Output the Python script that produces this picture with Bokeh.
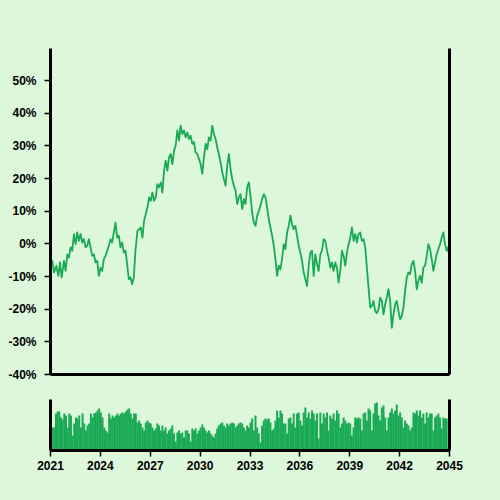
from bokeh.plotting import figure
from bokeh.layouts import column
from bokeh.models import Range1d, FixedTicker, LinearAxis, PrintfTickFormatter
from bokeh.embed import file_html
from bokeh.resources import INLINE

BG = "#dcf7da"
GREEN = "#1aa955"

# ---- data ----
line_years = [2021.02, 2021.11, 2021.21, 2021.35, 2021.47, 2021.57, 2021.67, 2021.81, 2021.91, 2022.01,
              2022.11, 2022.21, 2022.31, 2022.41, 2022.51, 2022.61, 2022.71, 2022.81, 2022.91, 2023.01,
              2023.11, 2023.21, 2023.31, 2023.41, 2023.51, 2023.61, 2023.71, 2023.81, 2023.91, 2024.01,
              2024.11, 2024.21, 2024.31, 2024.41, 2024.51, 2024.61, 2024.71, 2024.81, 2024.91, 2025.01,
              2025.11, 2025.21, 2025.31, 2025.41, 2025.51, 2025.61, 2025.71, 2025.81, 2025.91, 2026.01,
              2026.11, 2026.23, 2026.43, 2026.53, 2026.63, 2026.83, 2026.93, 2027.03, 2027.13, 2027.23,
              2027.33, 2027.43, 2027.53, 2027.63, 2027.73, 2027.83, 2027.93, 2028.03, 2028.13, 2028.23,
              2028.33, 2028.43, 2028.53, 2028.63, 2028.73, 2028.83, 2028.93, 2029.03, 2029.13, 2029.23,
              2029.33, 2029.43, 2029.53, 2029.63, 2029.73, 2029.83, 2029.93, 2030.03, 2030.13, 2030.23,
              2030.33, 2030.43, 2030.53, 2030.63, 2030.73, 2030.83, 2030.93, 2031.03, 2031.13, 2031.23,
              2031.33, 2031.43, 2031.53, 2031.63, 2031.73, 2031.83, 2031.93, 2032.03, 2032.13, 2032.23,
              2032.33, 2032.43, 2032.53, 2032.63, 2032.73, 2032.83, 2032.93, 2033.03, 2033.13, 2033.23,
              2033.33, 2033.43, 2033.53, 2033.63, 2033.73, 2033.83, 2033.93, 2034.03, 2034.13, 2034.23,
              2034.33, 2034.43, 2034.53, 2034.63, 2034.73, 2034.83, 2034.93, 2035.03, 2035.13, 2035.23,
              2035.33, 2035.43, 2035.53, 2035.63, 2035.73, 2035.83, 2035.93, 2036.03, 2036.13, 2036.23,
              2036.33, 2036.43, 2036.53, 2036.63, 2036.73, 2036.83, 2036.93, 2037.03, 2037.13, 2037.23,
              2037.33, 2037.43, 2037.53, 2037.63, 2037.73, 2037.83, 2037.93, 2038.03, 2038.13, 2038.23,
              2038.33, 2038.43, 2038.53, 2038.63, 2038.73, 2038.83, 2038.93, 2039.03, 2039.13, 2039.23,
              2039.33, 2039.43, 2039.53, 2039.63, 2039.73, 2039.83, 2039.93, 2040.03, 2040.13, 2040.23,
              2040.33, 2040.43, 2040.53, 2040.63, 2040.73, 2040.83, 2040.93, 2041.03, 2041.13, 2041.23,
              2041.33, 2041.43, 2041.53, 2041.63, 2041.73, 2041.83, 2041.93, 2042.03, 2042.13, 2042.23,
              2042.33, 2042.43, 2042.53, 2042.63, 2042.73, 2042.83, 2042.93, 2043.03, 2043.13, 2043.23,
              2043.33, 2043.43, 2043.53, 2043.63, 2043.73, 2043.83, 2043.93, 2044.03, 2044.13, 2044.23,
              2044.33, 2044.43, 2044.53, 2044.63, 2044.73, 2044.83, 2044.89, 2044.97]

line_pct = [-6.0, -5.2, -8.8, -6.7, -9.8, -5.7, -10.3, -5.2, -8.3, -3.2,
            -4.2, -1.1, -2.1, 3.0, -0.1, 3.5, 0.9, 3.0, 0.4, 1.4,
            -1.1, -0.6, 1.4, -1.1, -3.7, -3.2, -5.7, -5.2, -9.8, -7.3,
            -8.3, -4.7, -3.7, -2.1, -0.6, 1.4, 0.4, 3.5, 6.5, 1.9,
            2.5, -1.1, 0.4, -2.7, -2.1, -6.2, -10.8, -10.3, -12.4, -10.3,
            -2.1, 4.0, 5.0, 1.9, 7.1, 11.1, 14.2, 13.2, 15.7, 13.2,
            14.2, 18.3, 17.3, 18.8, 15.7, 22.4, 25.5, 22.4, 26.5, 27.5,
            24.4, 28.5, 30.1, 34.7, 31.6, 36.2, 33.6, 34.7, 32.6, 34.1,
            32.1, 33.1, 30.6, 31.1, 28.0, 27.5, 26.0, 24.4, 21.4, 26.5,
            30.6, 29.0, 32.6, 31.6, 36.2, 33.6, 32.1, 29.5, 27.5, 24.9,
            21.9, 19.8, 17.8, 23.9, 27.5, 22.9, 19.8, 17.8, 16.3, 12.2,
            14.2, 15.2, 10.6, 13.7, 12.2, 17.3, 18.8, 14.7, 9.6, 6.5,
            5.5, 8.6, 10.1, 11.7, 13.7, 15.2, 14.2, 11.1, 7.6, 5.0,
            2.5, -0.6, -4.7, -9.8, -6.7, -7.8, -4.7, -0.1, -1.6, 3.5,
            5.5, 8.6, 6.0, 4.5, 5.5, 2.5, -0.6, -2.7, -5.2, -8.8,
            -10.8, -12.9, -6.7, -2.7, -2.1, -9.8, -3.2, -6.2, -8.3, -3.2,
            -2.1, 1.4, 0.9, -2.1, -4.2, -7.3, -5.7, -8.3, -5.7, -7.3,
            -11.9, -8.3, -2.1, -3.7, -6.7, -2.7, -0.1, 1.9, 5.0, 0.9,
            3.0, 0.4, 3.0, 3.5, 0.9, 1.4, -1.1, -7.3, -13.4, -19.5,
            -19.0, -17.5, -20.6, -21.2, -20.0, -16.5, -17.5, -21.6, -18.5, -16.5,
            -13.9, -17.5, -25.7, -21.6, -18.5, -17.5, -20.6, -23.1, -22.1, -19.5,
            -14.4, -10.3, -8.8, -9.3, -6.2, -5.2, -8.3, -13.9, -11.3, -9.8,
            -11.9, -7.3, -6.7, -3.7, -0.1, -1.6, -4.7, -8.3, -5.7, -3.2,
            -1.6, -0.1, 1.9, 3.5, -0.1, -2.1, -1.1, -3.0]

volume = [23, 23, 23, 37, 39, 39, 33, 31, 37, 35, 23, 37, 35, 15, 27, 33, 32, 35, 23, 37,
          27, 20, 25, 27, 37, 33, 37, 38, 40, 42, 38, 33, 23, 20, 18, 37, 32, 35, 33, 35,
          37, 35, 37, 38, 37, 39, 41, 42, 37, 32, 37, 37, 28, 30, 27, 23, 20, 28, 30, 28,
          27, 23, 20, 22, 27, 25, 20, 25, 20, 23, 17, 20, 22, 25, 17, 9, 18, 20, 17, 18,
          13, 20, 20, 17, 9, 22, 20, 22, 17, 20, 23, 26, 23, 20, 18, 20, 17, 15, 13, 17,
          22, 25, 27, 28, 25, 23, 27, 25, 27, 28, 27, 23, 25, 27, 28, 27, 23, 20, 25, 23,
          28, 32, 20, 35, 23, 17, 8, 25, 30, 32, 31, 32, 28, 20, 22, 30, 40, 33, 40, 37,
          27, 27, 17, 32, 33, 27, 37, 23, 37, 38, 30, 25, 38, 43, 33, 38, 32, 40, 37, 30,
          37, 12, 38, 27, 37, 33, 38, 20, 35, 32, 37, 30, 40, 37, 23, 27, 33, 30, 27, 28,
          27, 15, 23, 33, 32, 33, 32, 20, 37, 38, 30, 42, 40, 20, 37, 47, 48, 35, 30, 43,
          45, 33, 20, 33, 38, 42, 37, 40, 46, 35, 38, 33, 23, 30, 27, 25, 20, 23, 38, 37,
          40, 35, 40, 33, 37, 27, 38, 33, 37, 37, 20, 33, 35, 37, 33, 22, 33, 32, 32]
vol_years = [round(2021.03 + 0.1 * i, 2) for i in range(len(volume))]

x_ticks = [2021, 2024, 2027, 2030, 2033, 2036, 2039, 2042, 2045]
y_ticks = [-40, -30, -20, -10, 0, 10, 20, 30, 40, 50]

FONT = "Liberation Sans"

def style_axis(ax, show_labels):
    ax.axis_line_width = 3
    ax.axis_line_color = "black"
    ax.major_label_text_font = FONT
    ax.major_label_text_font_style = "bold"
    ax.major_label_text_font_size = "12px"
    ax.major_label_text_color = "black"
    ax.minor_tick_line_color = None
    if show_labels:
        ax.major_tick_line_width = 1.5
        ax.major_tick_line_color = "black"
        ax.major_tick_out = 6
        ax.major_tick_in = 0
    else:
        ax.ticker = FixedTicker(ticks=[])
        ax.major_tick_line_color = None
        ax.major_label_text_font_size = "0px"

x_range = Range1d(2021, 2045)

p1 = figure(width=500, height=383, x_range=x_range, y_range=Range1d(-40, 59.8),
            output_backend="svg", toolbar_location=None,
            min_border_left=50, min_border_right=51, min_border_top=48, min_border_bottom=9,
            background_fill_color=BG, border_fill_color=BG, outline_line_color=None)
p1.grid.visible = False
p1.line(line_years, line_pct, line_color=GREEN, line_width=1.8, line_join="round")
style_axis(p1.yaxis[0], True)
p1.yaxis[0].ticker = FixedTicker(ticks=y_ticks)
p1.yaxis[0].formatter = PrintfTickFormatter(format="%d%%")
p1.yaxis[0].major_label_standoff = 8
style_axis(p1.xaxis[0], False)
r1 = LinearAxis()
style_axis(r1, False)
p1.add_layout(r1, "right")

p2 = figure(width=500, height=117, x_range=x_range, y_range=Range1d(0, 51),
            output_backend="svg", toolbar_location=None,
            min_border_left=50, min_border_right=51, min_border_top=16, min_border_bottom=50,
            background_fill_color=BG, border_fill_color=BG, outline_line_color=None)
p2.grid.visible = False
p2.vbar(x=vol_years, top=volume, bottom=0, width=0.12, fill_color=GREEN, line_color=None)
style_axis(p2.xaxis[0], True)
p2.xaxis[0].ticker = FixedTicker(ticks=x_ticks)
p2.xaxis[0].major_label_standoff = 4
style_axis(p2.yaxis[0], False)
r2 = LinearAxis()
style_axis(r2, False)
p2.add_layout(r2, "right")

layout = column(p1, p2, spacing=0)
layout.styles = {"background-color": BG}

html = file_html(layout, INLINE)
html = html.replace("<body>", '<body style="background-color:%s;">' % BG)
open("out.html", "w").write(html)
